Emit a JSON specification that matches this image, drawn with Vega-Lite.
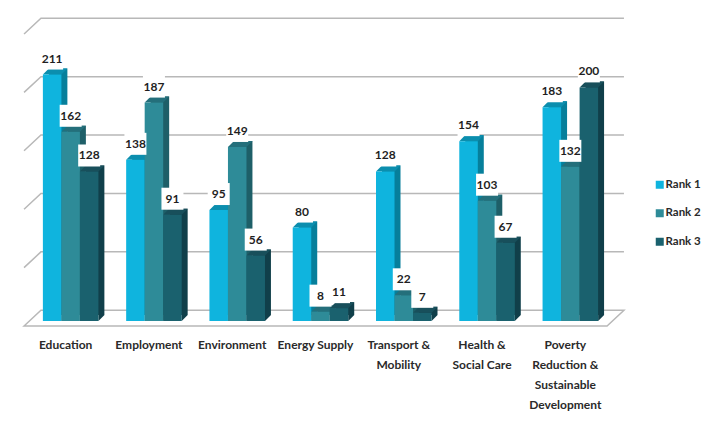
{
"$schema":"https://vega.github.io/schema/vega-lite/v6.json",
"width":583,"height":292,
"autosize":{"type":"none"},
"padding":{"left":29,"top":34,"right":98,"bottom":99},
"background":"white",
"datasets":{
"ranks":[
{"cat":"Education","rank":"Rank 1","v":211},{"cat":"Education","rank":"Rank 2","v":162},{"cat":"Education","rank":"Rank 3","v":128},
{"cat":"Employment","rank":"Rank 1","v":138},{"cat":"Employment","rank":"Rank 2","v":187},{"cat":"Employment","rank":"Rank 3","v":91},
{"cat":"Environment","rank":"Rank 1","v":95},{"cat":"Environment","rank":"Rank 2","v":149},{"cat":"Environment","rank":"Rank 3","v":56},
{"cat":"Energy Supply","rank":"Rank 1","v":80},{"cat":"Energy Supply","rank":"Rank 2","v":8},{"cat":"Energy Supply","rank":"Rank 3","v":11},
{"cat":"Transport & Mobility","rank":"Rank 1","v":128},{"cat":"Transport & Mobility","rank":"Rank 2","v":22},{"cat":"Transport & Mobility","rank":"Rank 3","v":7},
{"cat":"Health & Social Care","rank":"Rank 1","v":154},{"cat":"Health & Social Care","rank":"Rank 2","v":103},{"cat":"Health & Social Care","rank":"Rank 3","v":67},
{"cat":"Poverty Reduction & Sustainable Development","rank":"Rank 1","v":183},{"cat":"Poverty Reduction & Sustainable Development","rank":"Rank 2","v":132},{"cat":"Poverty Reduction & Sustainable Development","rank":"Rank 3","v":200}
],
"grid":[{"g":50},{"g":100},{"g":150},{"g":200},{"g":250}],
"floor":[{"g":0}]
},
"layer":[
{"data":{"name":"grid"},
 "mark":{"type":"point","filled":false,"opacity":1,"stroke":"#b8b8b8","strokeWidth":1.5,"size":339889,"shape":"M-1.017,0 L-0.959,-0.054 L1.041,-0.054"},
 "encoding":{"y":{"field":"g","type":"quantitative","scale":{"domain":[0,250],"nice":false},"axis":null}}},
{"data":{"name":"floor"},
 "mark":{"type":"point","filled":false,"opacity":1,"stroke":"#b8b8b8","strokeWidth":1.5,"size":339889,"shape":"M-1.017,0 L-0.959,-0.054 L1.041,-0.054 L0.983,0 Z"},
 "encoding":{"y":{"field":"g","type":"quantitative","scale":{"domain":[0,250],"nice":false},"axis":null}}},
{"data":{"name":"ranks"},
 "mark":{"type":"bar","yOffset":-11,"y2Offset":-11},
 "encoding":{
  "x":{"field":"cat","type":"nominal","sort":["Education","Employment","Environment","Energy Supply","Transport & Mobility","Health & Social Care","Poverty Reduction & Sustainable Development"]},
  "xOffset":{"field":"rank","type":"nominal","scale":{"range":[6,61.5]}},
  "y":{"field":"v","type":"quantitative"},"y2":{"datum":0},
  "color":{"field":"rank","type":"nominal","legend":null,"scale":{"domain":["Rank 1","Rank 2","Rank 3"],"range":["#067f9b","#1e5f68","#103f4a"]}}}},
{"data":{"name":"ranks"},
 "layer":[
 {"mark":{"type":"point","filled":true,"opacity":1,"size":342,"yOffset":-5,"shape":"M1,0 L1.65,-0.65 L1,-0.65 Z"},
 "encoding":{
  "x":{"field":"cat","type":"nominal","sort":["Education","Employment","Environment","Energy Supply","Transport & Mobility","Health & Social Care","Poverty Reduction & Sustainable Development"]},
  "xOffset":{"field":"rank","type":"nominal"},
  "y":{"datum":0,"type":"quantitative"},
  "color":{"field":"rank","type":"nominal","legend":null,"scale":{"domain":["Rank 1","Rank 2","Rank 3"],"range":["#067f9b","#1e5f68","#103f4a"]}}}},
 {"mark":{"type":"point","filled":true,"opacity":1,"size":342,"yOffset":-5,"shape":"M-1,0 L1,0 L1.65,-0.65 L-0.35,-0.65 Z"},
 "encoding":{
  "x":{"field":"cat","type":"nominal","sort":["Education","Employment","Environment","Energy Supply","Transport & Mobility","Health & Social Care","Poverty Reduction & Sustainable Development"]},
  "xOffset":{"field":"rank","type":"nominal"},
  "y":{"field":"v","type":"quantitative"},
  "color":{"field":"rank","type":"nominal","legend":null,"scale":{"domain":["Rank 1","Rank 2","Rank 3"],"range":["#0b8eae","#246f7b","#184f5b"]}}}},
 {"mark":{"type":"bar","yOffset":-5,"y2Offset":-5},
 "encoding":{
  "x":{"field":"cat","type":"nominal",
   "sort":["Education","Employment","Environment","Energy Supply","Transport & Mobility","Health & Social Care","Poverty Reduction & Sustainable Development"],
   "scale":{"paddingInner":0.333,"paddingOuter":0.1667},
   "title":null,
   "axis":{"domain":false,"ticks":false,"labelAngle":0,"labelAlign":"center","labelPadding":18,"labelOffset":-5,"labelFont":"Lato","labelFontWeight":"bold","labelFontSize":12,"labelColor":"#2a2a2a","labelLineHeight":20,"labelLimit":0,"labelBaseline":"middle",
    "labelExpr":"datum.value=='Transport & Mobility'?['Transport &','Mobility']:datum.value=='Health & Social Care'?['Health &','Social Care']:datum.value=='Poverty Reduction & Sustainable Development'?['Poverty','Reduction &','Sustainable','Development']:datum.value"}},
  "xOffset":{"field":"rank","type":"nominal"},
  "y":{"field":"v","type":"quantitative"},"y2":{"datum":0},
  "color":{"field":"rank","type":"nominal","title":null,
   "scale":{"domain":["Rank 1","Rank 2","Rank 3"],"range":["#0fb4de","#2e8b98","#1a616e"]},
   "legend":{"orient":"none","legendX":625,"legendY":145,"symbolType":"square","symbolSize":64,"labelFont":"Lato","labelFontWeight":"bold","labelFontSize":11.5,"labelColor":"#2a2a2a","rowPadding":15.5,"labelOffset":0,"symbolStrokeWidth":0}}}},
 {"mark":{"type":"point","filled":true,"opacity":1,"shape":"square","color":"white","size":484,"yOffset":-21},
 "encoding":{
  "x":{"field":"cat","type":"nominal","sort":["Education","Employment","Environment","Energy Supply","Transport & Mobility","Health & Social Care","Poverty Reduction & Sustainable Development"]},
  "xOffset":{"field":"rank","type":"nominal"},
  "y":{"field":"v","type":"quantitative"}}},
 {"mark":{"type":"text","font":"Lato","fontWeight":"bold","fontSize":12,"color":"#1f1f1f","baseline":"middle","yOffset":-21},
 "encoding":{
  "x":{"field":"cat","type":"nominal","sort":["Education","Employment","Environment","Energy Supply","Transport & Mobility","Health & Social Care","Poverty Reduction & Sustainable Development"]},
  "xOffset":{"field":"rank","type":"nominal"},
  "y":{"field":"v","type":"quantitative"},
  "text":{"field":"v","type":"quantitative"}}}
 ],
 "resolve":{"scale":{"color":"independent"}}
}
],
"resolve":{"scale":{"color":"independent","xOffset":"independent"}},
"config":{"view":{"stroke":null}}
}
